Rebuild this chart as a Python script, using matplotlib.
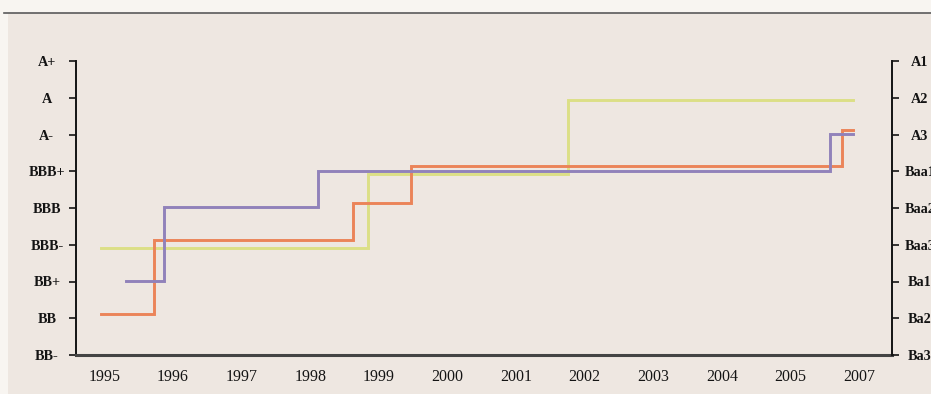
import matplotlib
matplotlib.use("Agg")
import matplotlib.pyplot as plt
from matplotlib.patches import Rectangle
from matplotlib.lines import Line2D

# Year axis labels (2006 slot is labelled 2007)
year_labels = ["1995", "1996", "1997", "1998", "1999", "2000",
               "2001", "2002", "2003", "2004", "2005", "2007"]

# Rating scales: S&P style on the left, Moody's style on the right
sp_ratings = ["BB-", "BB", "BB+", "BBB-", "BBB", "BBB+", "A-", "A", "A+"]
moodys_ratings = ["Ba3", "Ba2", "Ba1", "Baa3", "Baa2", "Baa1", "A3", "A2", "A1"]

# Rating histories: change points (years since 1995) and rating level (index on scale)
orange_x = [-0.05, 0.72, 3.62, 4.47, 10.75, 10.91]
orange_y = [1.12, 3.12, 4.13, 5.13, 6.11, 6.11]

purple_x = [0.32, 0.87, 3.11, 10.58, 10.91]
purple_y = [2.01, 4.02, 5.02, 6.02, 6.02]

yellow_x = [-0.05, 3.84, 6.75, 10.91]
yellow_y = [2.92, 4.92, 6.93, 6.93]

W, H = 931, 394
fig = plt.figure(figsize=(W / 100, H / 100), dpi=100)
fig.patch.set_facecolor("#F8F5F1")

# Panel background and header rule
fig.patches.append(Rectangle((8 / W, 0), 1 - 8 / W, (H - 13) / H,
                             transform=fig.transFigure, facecolor="#EEE7E1",
                             edgecolor="none", zorder=-10))
fig.lines.append(Line2D([4 / W, 1], [(H - 12.5) / H] * 2, transform=fig.transFigure,
                        color="#5A5A5A", lw=1.2, zorder=-9))

left, right = 76 / W, 892 / W
bottom, top = (H - 355) / H, (H - 61) / H
ax = fig.add_axes([left, bottom, right - left, top - bottom])
ax.set_facecolor("none")

lw = 2.1
ax.plot(yellow_x, yellow_y, drawstyle="steps-post", color="#DCDF86", lw=lw,
        solid_joinstyle="miter", zorder=3)
ax.plot(orange_x, orange_y, drawstyle="steps-post", color="#EB8459", lw=lw,
        solid_joinstyle="miter", zorder=4)
ax.plot(purple_x, purple_y, drawstyle="steps-post", color="#9182BA", lw=lw,
        solid_joinstyle="miter", zorder=5)

ax.set_xlim(-0.415, 11.48)
ax.set_ylim(0, 8)

serif = ["Liberation Serif", "DejaVu Serif"]

ax.set_xticks(range(len(year_labels)))
ax.set_xticklabels(year_labels, fontfamily=serif, fontsize=11.5, color="#141414")
ax.tick_params(axis="x", length=0, pad=10)

ax.set_yticks(range(len(sp_ratings)))
ax.set_yticklabels(sp_ratings, fontfamily=serif, fontsize=10.3, fontweight="bold",
                   color="#141414", ha="center")
ax.tick_params(axis="y", length=5, width=1.2, color="#141414", pad=16)

ax2 = ax.twinx()
ax2.set_ylim(0, 8)
ax2.set_yticks(range(len(moodys_ratings)))
ax2.set_yticklabels(moodys_ratings, fontfamily=serif, fontsize=10.3, fontweight="bold",
                    color="#141414", ha="center")
ax2.tick_params(axis="y", length=5, width=1.2, color="#141414", pad=15)

for a in (ax, ax2):
    a.spines["top"].set_visible(False)
    a.spines["bottom"].set_visible(False)
    a.spines["left"].set_color("#141414")
    a.spines["right"].set_color("#141414")
    a.spines["left"].set_linewidth(1.4)
    a.spines["right"].set_linewidth(1.4)
ax2.spines["left"].set_visible(False)
ax.spines["right"].set_visible(False)
ax.spines["bottom"].set_visible(True)
ax.spines["bottom"].set_color("#444444")
ax.spines["bottom"].set_linewidth(2.2)
ax.spines["bottom"].set_zorder(6)

fig.savefig("out.png", dpi=100, facecolor=fig.get_facecolor())
